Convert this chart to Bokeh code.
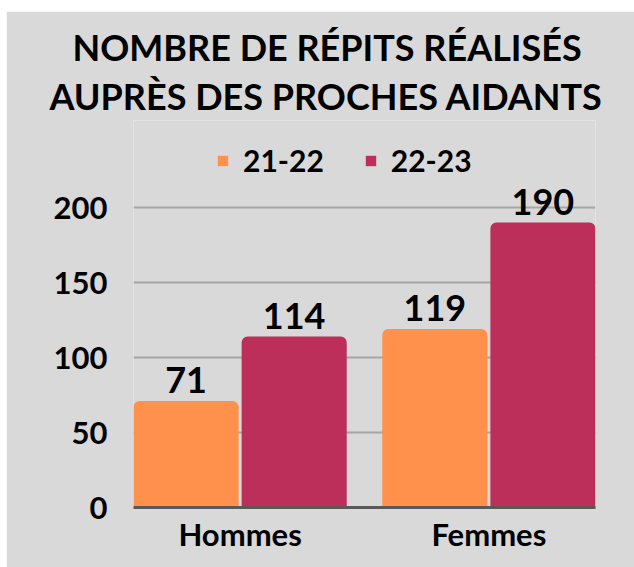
from bokeh.plotting import figure
from bokeh.models import (ColumnDataSource, FixedTicker, LabelSet, Legend,
                          LegendItem, Range1d, Title)
from bokeh.transform import dodge
from bokeh.embed import file_html
from bokeh.resources import INLINE
from bokeh.core.properties import value

# ---- data ----
title_lines = ["NOMBRE DE RÉPITS RÉALISÉS", "AUPRÈS DES PROCHES AIDANTS"]
categories = ["Hommes", "Femmes"]
series = ["21-22", "22-23"]
values_2122 = [71, 119]
values_2223 = [114, 190]
y_ticks = [0, 50, 100, 150, 200]

# ---- styles ----
colors = ["#FF914D", "#BC2F5B"]
BG = "#D9D9D9"
FONT = "Lato"
W, H = 628, 556

p = figure(width=W, height=H, output_backend="svg", toolbar_location=None,
           x_range=Range1d(-0.4286, 1.4286), y_range=Range1d(0, 387 / 1.5),
           min_border_left=127, min_border_right=39,
           min_border_top=109, min_border_bottom=60)
p.margin = (11, 0, 0, 6)
p.background_fill_color = BG
p.border_fill_color = BG
p.outline_line_color = None

src = ColumnDataSource(dict(
    x=list(range(len(categories))),
    v1=values_2122, v2=values_2223,
    t1=[str(v) for v in values_2122], t2=[str(v) for v in values_2223],
))

bw = 0.4225
off = 0.2173
r1 = p.vbar(x=dodge("x", -off, range=p.x_range), top="v1", width=bw, source=src,
            fill_color=colors[0], line_color=None, border_radius=(6, 6, 0, 0))
r2 = p.vbar(x=dodge("x", off, range=p.x_range), top="v2", width=bw, source=src,
            fill_color=colors[1], line_color=None, border_radius=(6, 6, 0, 0))

for col, t, o in (("v1", "t1", -off), ("v2", "t2", off)):
    p.add_layout(LabelSet(x=dodge("x", o, range=p.x_range), y=col, text=t, source=src,
                          y_offset=8, text_align="center", text_baseline="alphabetic",
                          text_font=value(FONT), text_font_style="bold",
                          text_font_size="36px", text_color="black"))

# axes
p.xaxis.ticker = FixedTicker(ticks=list(range(len(categories))))
p.xaxis.major_label_overrides = {i: c for i, c in enumerate(categories)}
p.xaxis.axis_line_color = "#595959"
p.xaxis.axis_line_width = 3
p.xaxis.major_tick_line_color = None
p.xaxis.minor_tick_line_color = None
p.xaxis.major_tick_out = 0
p.xaxis.major_tick_in = 0
p.xaxis.major_label_standoff = 7
p.xaxis.major_label_text_font = FONT
p.xaxis.major_label_text_font_style = "bold"
p.xaxis.major_label_text_font_size = "31px"
p.xaxis.major_label_text_color = "black"

p.yaxis.ticker = FixedTicker(ticks=y_ticks)
p.yaxis.axis_line_color = None
p.yaxis.major_tick_line_color = None
p.yaxis.minor_tick_line_color = None
p.yaxis.major_tick_out = 0
p.yaxis.major_tick_in = 0
p.yaxis.major_label_standoff = 26
p.yaxis.major_label_text_font = FONT
p.yaxis.major_label_text_font_style = "bold"
p.yaxis.major_label_text_font_size = "31px"
p.yaxis.major_label_text_color = "black"

p.xgrid.grid_line_color = None
p.ygrid.ticker = FixedTicker(ticks=y_ticks[1:])
p.ygrid.grid_line_color = "#A6A6A6"
p.ygrid.grid_line_width = 2

# title: two lines, each positioned relative to the frame's left edge
for line, offs, so in zip(reversed(title_lines), (-84, -61), (6, 0)):
    p.add_layout(Title(text=line, align="left", offset=offs, standoff=so,
                       vertical_align="bottom",
                       text_font=FONT, text_font_style="bold",
                       text_font_size="36px", text_color="black"), "above")

legend = Legend(items=[LegendItem(label=series[0], renderers=[r1]),
                       LegendItem(label=series[1], renderers=[r2])],
                orientation="horizontal", location=(83, 329),
                border_line_color=None, background_fill_alpha=0,
                padding=0, margin=0, spacing=40, label_standoff=14,
                glyph_width=13, glyph_height=13,
                label_text_font=FONT, label_text_font_style="bold",
                label_text_font_size="30px", label_text_color="black")
p.add_layout(legend, "center")

open("out.html", "w").write(file_html(p, INLINE))
